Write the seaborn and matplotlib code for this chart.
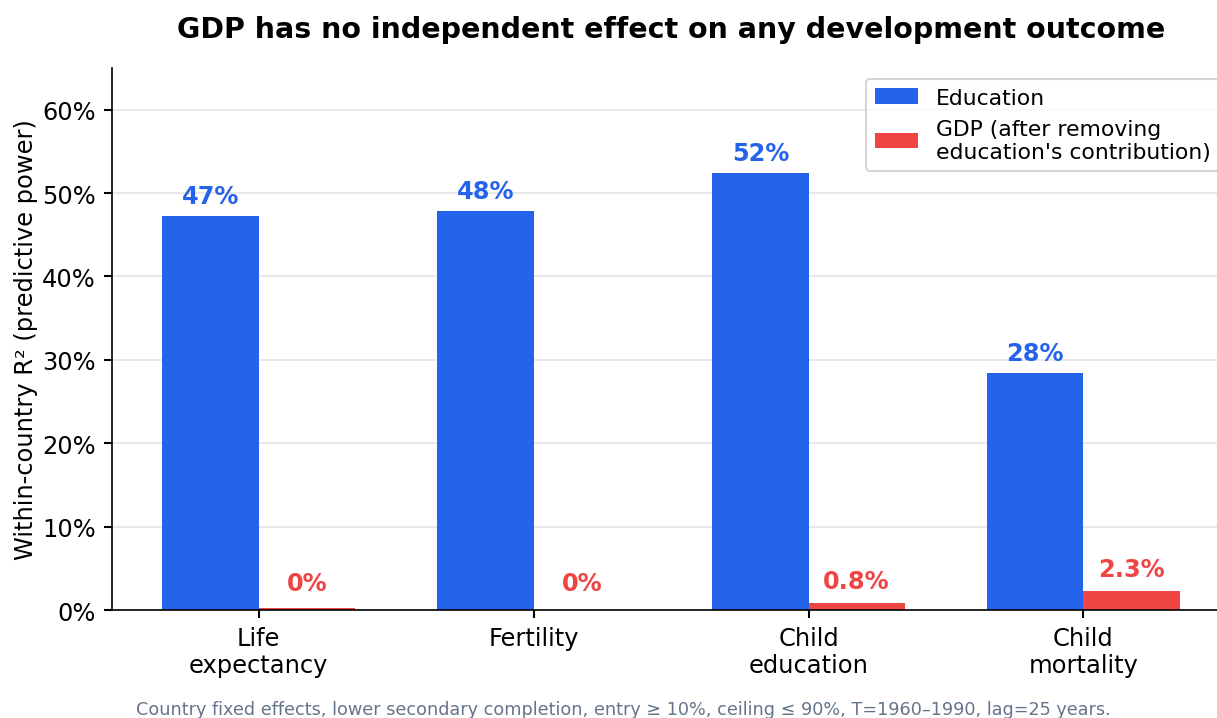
import matplotlib
matplotlib.use("Agg")
import matplotlib.pyplot as plt
import seaborn as sns
import pandas as pd
from matplotlib.ticker import PercentFormatter

outcomes = ["Life\nexpectancy", "Fertility", "Child\neducation", "Child\nmortality"]
education_r2 = [0.472, 0.478, 0.524, 0.284]
gdp_r2 = [0.002, 0.0002, 0.008, 0.023]
series_names = ["Education", "GDP (after removing\neducation's contribution)"]
colors = ["#2563eb", "#ef4444"]

df = pd.DataFrame({
    "outcome": outcomes * 2,
    "series": [series_names[0]] * 4 + [series_names[1]] * 4,
    "r2": education_r2 + gdp_r2,
})

sns.set_style("white")
plt.rcParams['font.family'] = ['DejaVu Sans']
plt.rcParams['text.color'] = 'black'
plt.rcParams['axes.labelcolor'] = 'black'
plt.rcParams['xtick.color'] = 'black'
plt.rcParams['ytick.color'] = 'black'
plt.rcParams['axes.edgecolor'] = 'black'

fig = plt.figure(figsize=(8.12, 4.7933), dpi=150)
ax = fig.add_axes([0.0916, 0.1502, 0.9187, 0.7538])

sns.barplot(data=df, x="outcome", y="r2", hue="series", palette=colors,
            width=0.7, ax=ax, saturation=1, errorbar=None, linewidth=0)

ax.set_xlim(-0.535, 3.535)
ax.set_ylim(0, 0.65)
ax.set_yticks([0, 0.1, 0.2, 0.3, 0.4, 0.5, 0.6])
ax.yaxis.set_major_formatter(PercentFormatter(1.0, decimals=0))
ax.grid(axis="y", color="#e5e5e5", linewidth=0.8)
ax.set_axisbelow(True)
for s in ["top", "right"]:
    ax.spines[s].set_visible(False)
ax.spines["left"].set_color("black")
ax.spines["bottom"].set_color("black")
ax.tick_params(axis="both", labelsize=11.6, length=4, width=1, colors="black", left=True, bottom=True)
ax.set_xlabel("")
ax.set_ylabel("Within-country R² (predictive power)", fontsize=11.6, color="black", labelpad=2)
ax.set_title("GDP has no independent effect on any development outcome",
             fontsize=13.7, fontweight="bold", pad=15, color="black")

for i, v in enumerate(education_r2):
    ax.text(i - 0.175, v + 0.01, f"{v*100:.0f}%", ha="center", va="bottom",
            color=colors[0], fontsize=11.5, fontweight="bold")
for i, v in enumerate(gdp_r2):
    lab = f"{v*100:.1f}%" if v >= 0.005 else "0%"
    ax.text(i + 0.175, max(v, 0.006) + 0.012, lab, ha="center", va="bottom",
            color=colors[1], fontsize=11.5, fontweight="bold")

leg = ax.legend(loc="upper right", fontsize=10.5, frameon=True, edgecolor="#cccccc")
leg.set_title(None)
for t in leg.get_texts():
    t.set_color("black")

fig.text(0.5115, 0.013, "Country fixed effects, lower secondary completion, entry ≥ 10%, ceiling ≤ 90%, T=1960–1990, lag=25 years.",
         ha="center", va="center", fontsize=8.45, color="#64748b")

fig.savefig("out.png", dpi=150)
